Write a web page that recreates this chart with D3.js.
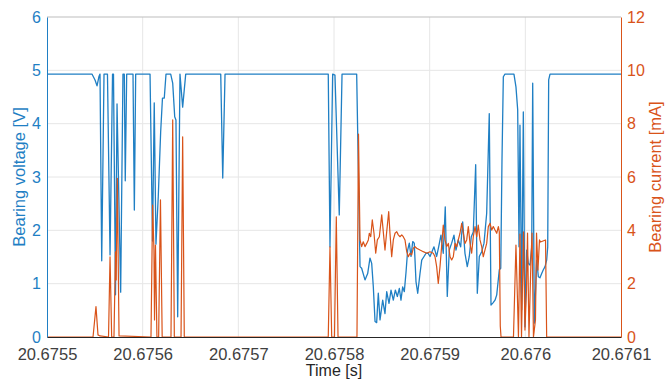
<html>
<meta charset="utf-8" />
<head>
<title>Bearing voltage and current</title>
<script src="https://cdn.jsdelivr.net/npm/d3@7/dist/d3.min.js"></script>
<style>
	body { margin: 0; background: #fff; }
	svg { font-family: Arial, "Liberation Sans", Helvetica, sans-serif; }
</style>
<script>
// times are microseconds after t0 (seconds)
const t0 = 20.6755;

const xTicks = [20.6755, 20.6756, 20.6757, 20.6758, 20.6759, 20.676, 20.6761];
const xTickLabels = ['20.6755', '20.6756', '20.6757', '20.6758', '20.6759', '20.676', '20.6761'];
const voltTicks = [0, 1, 2, 3, 4, 5, 6];
const currentTicks = [0, 2, 4, 6, 8, 10, 12];

// bearing voltage [V]
const voltTimeUs = [0, 47.0, 50.2, 52.3, 54.4, 55.4, 57.2, 59.6, 63.2, 65.9,
	68.5, 69.5, 71.6, 73.2, 77.0, 79.4, 80.8, 81.8, 83.3, 89.9,
	91.3, 92.7, 107.7, 110.3, 112.1, 113.9, 116.3, 118.8, 120.7, 122.6,
	124.4, 129.3, 131.4, 133.5, 134.8, 136.6, 139.0, 141.8, 145.0, 181.6,
	183.7, 186.1, 294.0, 295.8, 298.6, 301.0, 305.5, 308.4, 323.7, 327.2,
	328.9, 332.4, 335.2, 337.6, 339.4, 341.1, 342.9, 344.6, 346.3, 348.1,
	350.9, 353.3, 355.1, 357.5, 359.6, 362.0, 364.1, 366.2, 368.3, 370.0,
	371.8, 373.5, 375.3, 377.0, 378.7, 380.5, 382.3, 383.9, 385.7, 387.5,
	389.9, 391.7, 394.1, 396.2, 398.3, 400.4, 402.4, 404.5, 407.3, 409.4,
	411.8, 414.2, 416.3, 418.4, 420.5, 423.0, 425.4, 427.5, 429.9, 432.4,
	434.5, 436.9, 439.3, 441.4, 443.5, 445.6, 448.1, 449.8, 451.9, 454.4,
	456.8, 459.6, 462.3, 464.1, 466.2, 468.3, 470.1, 472.8, 474.3, 475.6,
	477.0, 478.7, 488.1, 490.2, 492.0, 493.4, 494.4, 496.2, 497.9, 499.6,
	501.4, 503.1, 504.9, 506.7, 507.7, 509.4, 511.9, 513.6, 515.3, 517.1,
	518.8, 520.6, 522.3, 523.4, 524.4, 525.8, 600];
const voltage = [4.93, 4.93, 4.82, 4.71, 4.89, 4.93, 1.43, 4.93, 4.93, 1.54,
	4.93, 4.93, 0.79, 4.37, 0.84, 4.93, 4.93, 2.93, 4.93, 4.93,
	2.38, 4.93, 4.93, 1.80, 4.39, 1.74, 2.63, 3.84, 4.48, 4.48,
	4.93, 4.93, 4.76, 4.13, 4.07, 0.38, 4.93, 4.31, 4.93, 4.93,
	2.98, 4.93, 4.93, 1.69, 4.93, 4.91, 2.29, 4.93, 4.93, 1.32,
	1.29, 1.07, 1.19, 1.48, 1.38, 0.94, 0.29, 0.27, 0.82, 0.32,
	0.69, 0.44, 0.85, 0.63, 0.88, 0.69, 0.88, 0.76, 0.91, 0.69,
	0.94, 0.85, 1.22, 1.63, 1.76, 1.51, 1.79, 1.76, 1.04, 0.82,
	1.19, 1.44, 1.51, 1.57, 1.57, 1.51, 1.60, 1.69, 1.51, 1.69,
	1.91, 1.57, 2.44, 0.76, 1.63, 1.76, 1.91, 1.63, 1.82, 1.69,
	2.16, 1.57, 1.32, 1.51, 1.88, 1.97, 3.23, 0.82, 1.51, 1.60,
	1.76, 2.32, 4.19, 0.60, 0.64, 0.69, 0.79, 1.26, 1.29, 3.32,
	4.88, 4.93, 4.93, 4.69, 4.26, 1.69, 3.97, 0.51, 4.22, 0.19,
	1.63, 1.38, 1.35, 1.69, 4.76, 0.26, 1.44, 1.13, 1.11, 1.19,
	1.26, 1.32, 1.44, 1.69, 4.82, 4.93, 4.93];

// bearing current [mA]
const currTimeUs = [0, 48.1, 51.2, 53.3, 55.4, 64.3, 65.9, 67.6, 70.0, 71.6,
	72.3, 73.5, 75.3, 108.7, 110.4, 111.8, 112.4, 113.4, 114.9, 116.7,
	118.6, 120.4, 129.6, 131.4, 133.1, 140.1, 141.8, 143.5, 294.0, 295.8,
	297.6, 300.5, 302.4, 304.2, 324.0, 325.6, 327.2, 328.9, 330.6, 332.4,
	334.2, 335.9, 336.9, 338.4, 340.0, 341.8, 343.6, 345.3, 347.4, 349.9,
	351.5, 353.3, 355.1, 357.2, 358.5, 360.3, 362.0, 363.8, 365.6, 367.2,
	369.0, 370.8, 372.4, 374.2, 376.0, 377.7, 379.4, 381.2, 382.9, 384.7,
	386.4, 389.9, 393.3, 396.9, 400.3, 403.8, 405.6, 407.3, 409.0, 410.8,
	412.5, 414.2, 416.0, 417.8, 419.5, 421.3, 423.0, 424.7, 426.5, 428.3,
	429.9, 431.7, 433.5, 435.2, 436.9, 438.7, 440.4, 442.2, 443.9, 445.6,
	447.4, 449.2, 450.8, 452.6, 454.4, 456.0, 457.8, 459.6, 461.3, 463.1,
	464.9, 466.5, 468.3, 470.1, 471.8, 472.8, 473.8, 474.6, 487.6, 490.2,
	491.8, 492.8, 494.4, 496.0, 498.1, 499.6, 501.2, 502.3, 503.8, 505.9,
	507.0, 508.5, 510.6, 511.7, 513.2, 514.8, 515.8, 521.1, 522.3, 600];
const current = [0, 0, 1.14, 0.08, 0.04, 0, 3.01, 0, 0, 3.19,
	2.14, 5.95, 0.04, 0, 4.95, 3.26, 0.64, 3.45, 0, 0,
	5.14, 0, 0, 8.14, 0, 0, 7.51, 0, 0, 3.38,
	0, 0, 4.51, 0, 0, 7.61, 3.64, 3.39, 3.57, 3.39,
	3.51, 3.64, 3.89, 3.76, 4.39, 3.89, 3.14, 3.64, 3.76, 4.58,
	3.95, 3.26, 3.95, 4.70, 3.89, 3.01, 3.64, 3.89, 3.95, 3.83,
	3.76, 3.83, 3.76, 3.64, 3.20, 3.01, 3.14, 3.08, 3.33, 3.39,
	3.33, 3.26, 3.20, 3.14, 3.20, 3.14, 3.01, 2.64, 2.01, 2.64,
	3.39, 4.20, 3.64, 3.39, 3.51, 3.01, 2.89, 3.01, 3.51, 3.39,
	3.64, 3.89, 4.26, 3.89, 3.51, 3.64, 4.14, 3.51, 3.14, 3.76,
	4.14, 3.76, 4.20, 3.64, 3.39, 3.01, 3.26, 3.51, 4.14, 4.26,
	4.01, 4.14, 4.01, 3.89, 4.14, 3.94, 0.41, 0, 0, 3.45,
	1.39, 0, 3.86, 0, 3.94, 0.26, 1.76, 3.90, 0, 2.89,
	3.90, 0, 0.64, 3.90, 2.51, 3.64, 3.56, 3.64, 0, 0];

window.onload = function() {
	const blue = '#1f7fc4';
	const orange = '#d95319';
	const left = 47, right = 621, top = 17, bottom = 337;

	const svg = d3.select('svg');

	let xScale = d3.scaleLinear().domain([20.6755, 20.6761]).range([left, right]);
	let yVolt = d3.scaleLinear().domain([0, 6]).range([bottom, top]);
	let yCurr = d3.scaleLinear().domain([0, 12]).range([bottom, top]);

	// grid
	svg.append('g').selectAll('line.vgrid')
		.data(xTicks.slice(1, -1)).enter()
		.append('line')
		.attr('x1', (d) => xScale(d)).attr('x2', (d) => xScale(d))
		.attr('y1', top).attr('y2', bottom)
		.style('stroke', '#e6e6e6').style('stroke-width', '1px');
	svg.append('g').selectAll('line.hgrid')
		.data(voltTicks.slice(1, -1)).enter()
		.append('line')
		.attr('x1', left).attr('x2', right)
		.attr('y1', (d) => yVolt(d)).attr('y2', (d) => yVolt(d))
		.style('stroke', '#e6e6e6').style('stroke-width', '1px');

	// top edge of the box
	svg.append('line')
		.attr('x1', left).attr('x2', right).attr('y1', top).attr('y2', top)
		.style('stroke', '#bdbdbd').style('stroke-width', '1px');

	let voltData = voltTimeUs.map((t, i) => ({ t: t0 + t * 1e-6, v: voltage[i] }));
	let currData = currTimeUs.map((t, i) => ({ t: t0 + t * 1e-6, v: current[i] }));

	let voltLine = d3.line().x((d) => xScale(d.t)).y((d) => yVolt(d.v));
	let currLine = d3.line().x((d) => xScale(d.t)).y((d) => yCurr(d.v));

	svg.append('path').datum(voltData)
		.attr('d', voltLine)
		.style('fill', 'none').style('stroke', blue).style('stroke-width', '1.3px')
		.style('stroke-linejoin', 'round');

	svg.append('path').datum(currData)
		.attr('d', currLine)
		.style('fill', 'none').style('stroke', orange).style('stroke-width', '1.2px')
		.style('stroke-linejoin', 'round');

	// axes
	let xAxis = d3.axisBottom(xScale).tickValues(xTicks)
		.tickFormat((d, i) => xTickLabels[i]).tickSize(0).tickPadding(11);
	let gx = svg.append('g').attr('transform', 'translate(0,' + bottom + ')').call(xAxis);
	gx.select('path.domain').style('stroke', '#262626');
	gx.selectAll('text').style('font-size', '16.5px').style('fill', '#404040')
		.style('font-family', 'Arial, "Liberation Sans", sans-serif');

	let yAxisL = d3.axisLeft(yVolt).tickValues(voltTicks).tickFormat(d3.format('d'))
		.tickSize(0).tickPadding(6);
	let gl = svg.append('g').attr('transform', 'translate(' + left + ',0)').call(yAxisL);
	gl.select('path.domain').style('stroke', blue);
	gl.selectAll('text').style('font-size', '16px').style('fill', blue)
		.style('font-family', 'Arial, "Liberation Sans", sans-serif');

	let yAxisR = d3.axisRight(yCurr).tickValues(currentTicks).tickFormat(d3.format('d'))
		.tickSize(0).tickPadding(6);
	let gr = svg.append('g').attr('transform', 'translate(' + right + ',0)').call(yAxisR);
	gr.select('path.domain').style('stroke', orange);
	gr.selectAll('text').style('font-size', '16px').style('fill', orange)
		.style('font-family', 'Arial, "Liberation Sans", sans-serif');

	// axis titles
	svg.append('text')
		.attr('x', (left + right) / 2).attr('y', 376)
		.attr('text-anchor', 'middle')
		.style('font-size', '16px').style('fill', '#262626')
		.text('Time [s]');

	svg.append('text')
		.attr('transform', 'translate(25,' + (top + bottom) / 2 + ') rotate(-90)')
		.attr('text-anchor', 'middle')
		.style('font-size', '16.5px').style('fill', blue)
		.text('Bearing voltage [V]');

	svg.append('text')
		.attr('transform', 'translate(661,' + (top + bottom) / 2 + ') rotate(-90)')
		.attr('text-anchor', 'middle')
		.style('font-size', '16.5px').style('fill', orange)
		.text('Bearing current [mA]');
}
</script>
</head>
<body>
<svg width="665" height="379"></svg>
</body>
</html>
